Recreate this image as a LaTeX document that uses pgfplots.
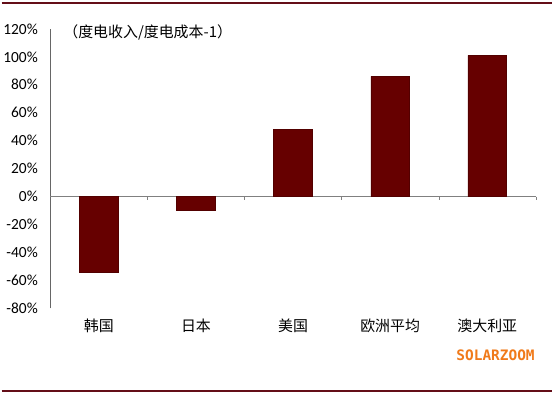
\documentclass[border=0pt]{standalone}
\usepackage{fontspec}
\setmainfont{Carlito}
\newfontfamily\cjk{Noto Sans CJK SC}
\newfontfamily\monof{DejaVu Sans Mono}
\usepackage{pgfplots}
\pgfplotsset{compat=1.18}
\definecolor{barred}{RGB}{102,0,0}
\definecolor{frameRed}{RGB}{100,14,24}
\definecolor{orng}{RGB}{240,122,26}
\begin{document}
\begin{tikzpicture}[x=1pt,y=1pt]
\path (0,0) rectangle (553,395);
\draw[frameRed, line width=2.5pt] (0,392) -- (553,392);
\draw[frameRed, line width=2.5pt] (0,2) -- (553,2);
\begin{axis}[
  at={(49pt,85pt)}, anchor=south west,
  scale only axis, width=488pt, height=281pt,
  xmin=-0.5, xmax=4.5, ymin=-80, ymax=120,
  axis y line*=left,
  axis x line*=bottom,
  x axis line style={draw=none},
  y axis line style={draw=gray!80!black},
  ytick={-80,-60,...,120},
  yticklabel={\pgfmathprintnumber{\tick}\%},
  ytick style={draw=none},
  xtick={-0.5,0.5,...,4.5},
  x tick label as interval,
  xticklabels={韩国,日本,美国,欧洲平均,澳大利亚},
  xtick style={draw=none},
  x tick label style={font=\cjk\fontsize{15}{17}\selectfont, yshift=-3pt},
  y tick label style={font=\fontsize{15.5}{17}\selectfont, xshift=-9pt},
  /pgf/number format/assume math mode=true,
  ybar, bar width=39pt,
  clip=false,
]
\draw[gray] (axis cs:-0.5,0) -- (axis cs:4.5,0);
\pgfplotsinvokeforeach{0.5,1.5,2.5,3.5,4.5}{\draw[gray] (axis cs:#1,0) -- (axis cs:#1,-2.5);}
\addplot[fill=barred, draw=barred!80!black] coordinates {(0,-54) (1,-10) (2,48) (3,86) (4,101)};
\end{axis}
\node[anchor=west, font=\cjk\fontsize{15}{17}\selectfont, inner sep=0pt] at (62,362) {（度电收入/度电成本-1）};
\node[anchor=east, font=\monof\bfseries\fontsize{14.5}{16}\selectfont, text=orng, inner sep=0pt] at (536,38) {SOLARZOOM};
\end{tikzpicture}
\end{document}
